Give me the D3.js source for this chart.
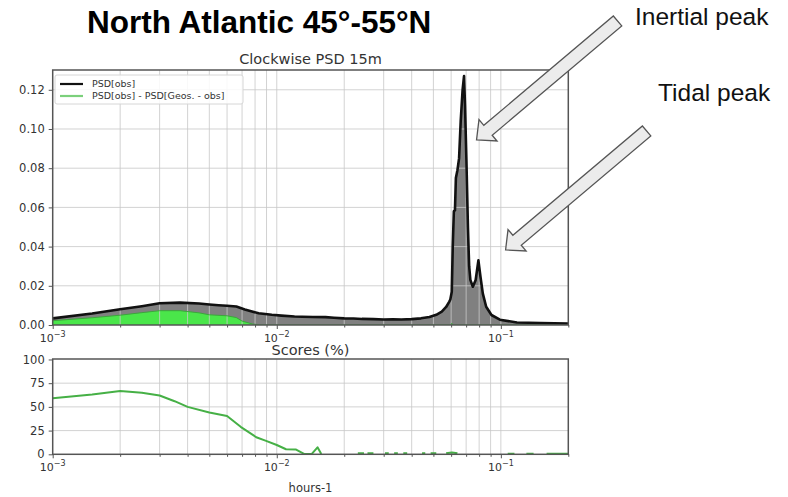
<!DOCTYPE html>
<html>
<head>
<meta charset="utf-8">
<script src="https://cdn.jsdelivr.net/npm/d3@7"></script>
<style>
  html, body { margin: 0; padding: 0; background: #fff; }
  svg { display: block; }
</style>
</head>
<body>
<svg id="chart" width="788" height="497"></svg>
<script>
// ---------------- DATA ----------------
// Frequencies (cycles per hour) and clockwise PSD of observations
const freqObs = [0.001, 0.0015, 0.002, 0.0025, 0.003, 0.0037, 0.0045, 0.005, 0.0055, 0.006, 0.0066, 0.0072, 0.0083, 0.0095, 0.0105,
  0.012, 0.013, 0.0145, 0.0165, 0.018, 0.020, 0.022, 0.024, 0.027, 0.030, 0.033, 0.036, 0.040, 0.044, 0.048, 0.0515,
  0.0545, 0.057, 0.0588, 0.0595, 0.0604, 0.0610, 0.0617, 0.0624, 0.0630, 0.0640, 0.0651, 0.0662, 0.0675, 0.0685,
  0.0692, 0.0702, 0.0713, 0.0722, 0.0731, 0.0750, 0.0772, 0.0794, 0.0811, 0.0831, 0.0860, 0.0908, 0.0990, 0.1180, 0.150, 0.200];
const psdObs = [0.0034, 0.0059, 0.0080, 0.0096, 0.0111, 0.0114, 0.0110, 0.0105, 0.0101, 0.0098, 0.0094, 0.0079, 0.0060, 0.0052, 0.0048,
  0.0043, 0.0042, 0.0041, 0.0040, 0.0037, 0.0034, 0.0033, 0.0031, 0.0030, 0.0028, 0.0029, 0.0028, 0.0030, 0.0034, 0.0041, 0.0052,
  0.0068, 0.0092, 0.0118, 0.0130, 0.0170, 0.0400, 0.0580, 0.0585, 0.0750, 0.0790, 0.0850, 0.1040, 0.1200, 0.1270,
  0.1120, 0.0840, 0.0500, 0.0300, 0.0230, 0.0195, 0.0230, 0.0330, 0.0246, 0.0160, 0.0093, 0.0051, 0.0027, 0.0013, 0.0010, 0.0008];

// PSD[obs] - PSD[Geos. - obs]
const freqDiff = [0.001, 0.0015, 0.002, 0.0025, 0.003, 0.0037, 0.0045, 0.005, 0.006, 0.0066, 0.007, 0.0078, 0.0085, 0.010, 0.059, 0.0600, 0.0604, 0.0609, 0.2];
const psdDiff  = [0.0022, 0.0037, 0.0050, 0.0063, 0.0073, 0.0073, 0.0062, 0.0052, 0.0047, 0.0038, 0.0020, 0.0005, 0.0, 0.0, 0.0, 0.0, 0.0009, 0.0, 0.0];

// Scores (%) — null marks gaps where the score is below zero
const freqScore = [0.001, 0.0015, 0.002, 0.0025, 0.003, 0.0035, 0.004, 0.005, 0.006, 0.0069, 0.0081, 0.0089, 0.010, 0.011, 0.0122, 0.0133, 0.0143, 0.0152, 0.0158,
  0.0170, 0.0230, 0.0245, 0.0250, 0.0254, 0.0270, 0.0290, 0.0304, 0.0316, 0.0325, 0.0334, 0.0347, 0.0355, 0.0367, 0.0382, 0.0400,
  0.0445, 0.0460, 0.0470, 0.0486, 0.0515, 0.0540, 0.0570, 0.0605, 0.0640, 0.0660, 0.1073, 0.1150, 0.1200, 0.1300, 0.1400, 0.1500, 0.1600, 0.1750, 0.2000];
const score = [59, 63, 66.8, 65, 62, 56, 50, 44, 40.4, 29, 18, 14.4, 9.8, 5.3, 5.0, 0.3, 0.2, 7.4, 0.3,
  null, 1, 1, null, 1, 1, null, 1, 1, null, 1, 1, null, 1, 1, null,
  1, 1, null, 1, 1, null, 1, 2, 1, null, 0.5, 0.5, null, 0.5, 0.5, null, 0.5, 0.5, 0.5];

const psdTicks = [0, 0.02, 0.04, 0.06, 0.08, 0.10, 0.12];
const scoreTicks = [0, 25, 50, 75, 100];
const decadeTicks = [0.001, 0.01, 0.1];
const decadeLabels = ["−3", "−2", "−1"];

const mainTitle = "North Atlantic 45°-55°N";
const psdTitle = "Clockwise PSD 15m";
const scoreTitle = "Scores (%)";
const xLabel = "hours-1";
const legendLabels = ["PSD[obs]", "PSD[obs] - PSD[Geos. - obs]"];
const annotations = [
  { text: "Inertial peak", tipF: 0.0779, tipV: 0.0944 },
  { text: "Tidal peak",    tipF: 0.1050, tipV: 0.0383 }
];

// ---------------- LAYOUT ----------------
const svg = d3.select("#chart");
const X0 = 52.7, X1 = 568.3;
const pTop = { y0: 70, y1: 325 };
const pBot = { y0: 359, y1: 454.3 };

const x = d3.scaleLog().domain([0.001, 0.2]).range([X0, X1]);
const yT = d3.scaleLinear().domain([0, 0.1301]).range([pTop.y1, pTop.y0]);
const yB = d3.scaleLinear().domain([0, 100.5]).range([pBot.y1, pBot.y0]);

const tickFont = "DejaVu Sans, sans-serif";
const gridColor = "#c8c8c8";
const frameColor = "#555";

// minor/major log ticks
const allLogTicks = [];
for (let e = -3; e <= -1; e++) {
  for (let m = 1; m <= 9; m++) {
    const v = m * Math.pow(10, e);
    if (v <= 0.2 + 1e-12) allLogTicks.push(v);
  }
}

function clipRect(id, p) {
  svg.append("clipPath").attr("id", id)
    .append("rect").attr("x", X0).attr("y", p.y0).attr("width", X1 - X0).attr("height", p.y1 - p.y0);
}
clipRect("clipT", pTop);
clipRect("clipB", pBot);

function vGrid(g, p) {
  g.selectAll(null).data(allLogTicks.filter(v => v > 0.0011 && v < 0.199)).enter().append("line")
    .attr("x1", d => x(d)).attr("x2", d => x(d)).attr("y1", p.y0).attr("y2", p.y1)
    .attr("stroke", gridColor).attr("stroke-width", 1);
}
function hGrid(g, ys, ticks) {
  g.selectAll(null).data(ticks.filter(v => v > 0)).enter().append("line")
    .attr("x1", X0).attr("x2", X1).attr("y1", d => ys(d)).attr("y2", d => ys(d))
    .attr("stroke", gridColor).attr("stroke-width", 1);
}

// ---------------- TOP PANEL ----------------
const gT = svg.append("g");
const obsData = freqObs.map((f, i) => ({ f, v: psdObs[i] }));
const diffData = freqDiff.map((f, i) => ({ f, v: psdDiff[i] }));

const areaT = d3.area().x(d => x(d.f)).y0(yT(0)).y1(d => yT(d.v));
const lineT = d3.line().x(d => x(d.f)).y(d => yT(d.v));

const plotT = gT.append("g").attr("clip-path", "url(#clipT)");
plotT.append("path").datum(obsData).attr("d", areaT).attr("fill", "#808080");
plotT.append("path").datum(diffData).attr("d", areaT).attr("fill", "#4ae64a");
vGrid(plotT.append("g").attr("opacity", 0.8), pTop);
hGrid(plotT.append("g").attr("opacity", 0.8), yT, psdTicks);
plotT.append("path").datum(diffData).attr("d", lineT).attr("fill", "none")
  .attr("stroke", "#3ca63c").attr("stroke-width", 1);
plotT.append("path").datum(obsData).attr("d", lineT).attr("fill", "none")
  .attr("stroke", "#111").attr("stroke-width", 2.6).attr("stroke-linejoin", "round");

// axes
const axT = d3.axisBottom(x).tickValues(allLogTicks).tickSize(3).tickFormat("");
gT.append("g").attr("transform", `translate(0,${pTop.y1})`).call(axT)
  .call(g => g.select(".domain").remove())
  .call(g => g.selectAll("line").attr("stroke", frameColor).attr("y2", d => decadeTicks.includes(d) ? 4 : 2.5));
const ayT = d3.axisLeft(yT).tickValues(psdTicks).tickSize(4).tickFormat(d3.format(".2f"));
gT.append("g").attr("transform", `translate(${X0},0)`).call(ayT)
  .call(g => g.select(".domain").remove())
  .call(g => g.selectAll("line").attr("stroke", frameColor))
  .call(g => g.selectAll("text").attr("font-family", tickFont).attr("font-size", 11.5).attr("fill", "#333").attr("x", -8));

gT.append("rect").attr("x", X0).attr("y", pTop.y0).attr("width", X1 - X0).attr("height", pTop.y1 - pTop.y0)
  .attr("fill", "none").attr("stroke", frameColor).attr("stroke-width", 1.5);

function decadeLabelsAt(g, yPos) {
  decadeTicks.forEach((v, i) => {
    const t = g.append("text").attr("x", x(v)).attr("y", yPos).attr("text-anchor", "middle")
      .attr("font-family", tickFont).attr("font-size", 11).attr("fill", "#333");
    t.append("tspan").text("10");
    t.append("tspan").attr("dy", -5).attr("font-size", 8).text(decadeLabels[i]);
  });
}
decadeLabelsAt(gT, 342);

gT.append("text").attr("x", (X0 + X1) / 2).attr("y", 64).attr("text-anchor", "middle")
  .attr("font-family", tickFont).attr("font-size", 14.5).attr("fill", "#333").text(psdTitle);

// legend
const lg = gT.append("g");
lg.append("rect").attr("x", 55).attr("y", 75).attr("width", 188).attr("height", 29).attr("rx", 2)
  .attr("fill", "#fff").attr("fill-opacity", 0.85).attr("stroke", "#d6d6d6");
const legColors = ["#111", "#7bd07b"];
legendLabels.forEach((lab, i) => {
  const yy = 84 + i * 12;
  lg.append("line").attr("x1", 60).attr("x2", 83).attr("y1", yy).attr("y2", yy)
    .attr("stroke", legColors[i]).attr("stroke-width", 2.2);
  lg.append("text").attr("x", 92).attr("y", yy + 3.3).attr("font-family", tickFont).attr("font-size", 9.5)
    .attr("fill", "#333").text(lab);
});

// ---------------- BOTTOM PANEL ----------------
const gB = svg.append("g");
const plotB = gB.append("g").attr("clip-path", "url(#clipB)");
vGrid(plotB.append("g").attr("opacity", 0.8), pBot);
hGrid(plotB.append("g").attr("opacity", 0.8), yB, scoreTicks.filter(v => v < 100));
const scoreData = freqScore.map((f, i) => ({ f, v: score[i] }));
plotB.append("path").datum(scoreData)
  .attr("d", d3.line().defined(d => d.v !== null).x(d => x(d.f)).y(d => yB(d.v)))
  .attr("fill", "none").attr("stroke", "#46b046").attr("stroke-width", 2).attr("stroke-linejoin", "round");

gB.append("g").attr("transform", `translate(0,${pBot.y1})`).call(axT)
  .call(g => g.select(".domain").remove())
  .call(g => g.selectAll("line").attr("stroke", frameColor).attr("y2", d => decadeTicks.includes(d) ? 4 : 2.5));
const ayB = d3.axisLeft(yB).tickValues(scoreTicks).tickSize(4).tickFormat(d3.format("d"));
gB.append("g").attr("transform", `translate(${X0},0)`).call(ayB)
  .call(g => g.select(".domain").remove())
  .call(g => g.selectAll("line").attr("stroke", frameColor))
  .call(g => g.selectAll("text").attr("font-family", tickFont).attr("font-size", 11.5).attr("fill", "#333").attr("x", -8));
gB.append("rect").attr("x", X0).attr("y", pBot.y0).attr("width", X1 - X0).attr("height", pBot.y1 - pBot.y0)
  .attr("fill", "none").attr("stroke", frameColor).attr("stroke-width", 1.5);
decadeLabelsAt(gB, 471);
gB.append("text").attr("x", (X0 + X1) / 2).attr("y", 355).attr("text-anchor", "middle")
  .attr("font-family", tickFont).attr("font-size", 14.5).attr("fill", "#333").text(scoreTitle);
gB.append("text").attr("x", (X0 + X1) / 2).attr("y", 492).attr("text-anchor", "middle")
  .attr("font-family", tickFont).attr("font-size", 11.5).attr("fill", "#333").text(xLabel);

// ---------------- ANNOTATIONS ----------------
svg.append("text").attr("x", 87).attr("y", 33).attr("font-family", "Liberation Sans, Arial, sans-serif")
  .attr("font-weight", "bold").attr("font-size", 31.5).attr("fill", "#000").text(mainTitle);

function blockArrow(tip, tail) {
  const sw = 6.5, hw = 14, hl = 15;
  const dx = tail[0] - tip[0], dy = tail[1] - tip[1];
  const L = Math.hypot(dx, dy);
  const u = [dx / L, dy / L], n = [-u[1], u[0]];
  const b = [tip[0] + u[0] * hl, tip[1] + u[1] * hl];
  const pts = [
    tip,
    [b[0] + n[0] * hw, b[1] + n[1] * hw],
    [b[0] + n[0] * sw, b[1] + n[1] * sw],
    [tail[0] + n[0] * sw, tail[1] + n[1] * sw],
    [tail[0] - n[0] * sw, tail[1] - n[1] * sw],
    [b[0] - n[0] * sw, b[1] - n[1] * sw],
    [b[0] - n[0] * hw, b[1] - n[1] * hw]
  ];
  return "M" + pts.map(p => p.join(",")).join("L") + "Z";
}
const annoText = [{ x: 635, y: 25 }, { x: 658, y: 101 }];
annotations.forEach((a, i) => {
  const tip = [x(a.tipF), yT(a.tipV)];
  const tail = [tip[0] + 141, tip[1] - 119];
  svg.append("path").attr("d", blockArrow(tip, tail)).attr("fill", "#ececec")
    .attr("stroke", "#555").attr("stroke-width", 1.3).attr("stroke-linejoin", "miter");
  svg.append("text").attr("x", annoText[i].x).attr("y", annoText[i].y)
    .attr("font-family", "Liberation Sans, Arial, sans-serif").attr("font-size", 24.5).attr("fill", "#111").text(a.text);
});
</script>
</body>
</html>
